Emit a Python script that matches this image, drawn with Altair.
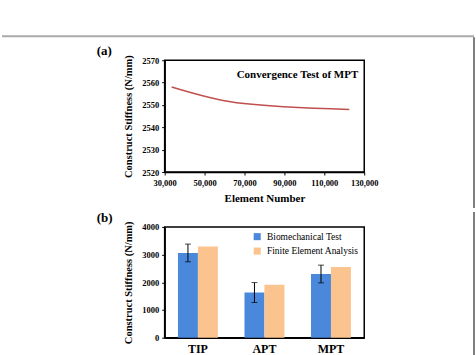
import altair as alt
import pandas as pd

# ---- Panel (a): convergence test ----
elements = [33500, 66000, 122500]
stiffness_conv = [2558, 2551, 2548]

# ---- Panel (b): stiffness comparison ----
constructs = ["TIP", "APT", "MPT"]
series_names = ["Biomechanical Test", "Finite Element Analysis"]
biomech = [3060, 1630, 2300]
biomech_err = [320, 360, 320]
fea = [3290, 1910, 2550]

FONT = "Liberation Serif"

conv_df = pd.DataFrame({"Element": elements, "Stiffness": stiffness_conv})
one = pd.DataFrame({"k": [0]})

rows = []
for c, b, e, f in zip(constructs, biomech, biomech_err, fea):
    rows.append({"Construct": c, "Series": series_names[0], "Value": b, "Lo": b - e, "Hi": b + e})
    rows.append({"Construct": c, "Series": series_names[1], "Value": f, "Lo": None, "Hi": None})
bar_df = pd.DataFrame(rows)

W, H1, H2 = 200, 112, 111

axis_common = dict(
    labelFont=FONT, labelFontWeight="bold", labelColor="black",
    titleFont=FONT, titleFontWeight="bold", titleColor="black",
    domainColor="black", domainWidth=1.5, tickColor="black", grid=False,
    labelOverlap=False,
)


def text_mark(s, x, y, size, weight="bold", align="left"):
    return alt.Chart(one).mark_text(
        text=s, font=FONT, fontWeight=weight, fontSize=size,
        align=align, baseline="alphabetic", color="black"
    ).encode(x=alt.value(x), y=alt.value(y))


line = alt.Chart(conv_df).mark_line(color="#c0504d", strokeWidth=1.5, interpolate="monotone").encode(
    x=alt.X("Element:Q", scale=alt.Scale(domain=[30000, 130000], nice=False),
            axis=alt.Axis(title="Element Number", values=[30000, 50000, 70000, 90000, 110000, 130000],
                          format=",.0f", labelFontSize=8.5, titleFontSize=11, tickSize=3,
                          labelFlush=False, labelPadding=4, titlePadding=5, **axis_common)),
    y=alt.Y("Stiffness:Q", scale=alt.Scale(domain=[2520, 2570], nice=False, zero=False),
            axis=alt.Axis(title="Construct Stiffness (N/mm)", values=[2520, 2530, 2540, 2550, 2560, 2570],
                          format="d", labelFontSize=8.5, titleFontSize=10.5, tickSize=3, labelPadding=3,
                          titlePadding=8, **axis_common)),
)

conv_label = text_mark("Convergence Test of MPT", 194, 18, 11, align="right")
label_a = text_mark("(a)", -68, -5, 13)

# page frame decoration
top_rule = alt.Chart(one).mark_rule(color="#aaaaaa", strokeWidth=2).encode(
    x=alt.value(-163), x2=alt.value(310), y=alt.value(-24))
side_rule = alt.Chart(one).mark_rule(color="#555555", strokeWidth=1.5).encode(
    x=alt.value(310), y=alt.value(-23), y2=alt.value(148))

chart_a = alt.layer(top_rule, side_rule, line, conv_label, label_a).properties(width=W, height=H1)

xenc = alt.X("Construct:N", sort=constructs,
             scale=alt.Scale(paddingInner=0.4, paddingOuter=0.2),
             axis=alt.Axis(title=None, labelAngle=0, labelFontSize=12, ticks=False, labelPadding=6,
                           **axis_common))
xoff = alt.XOffset("Series:N", sort=series_names, scale=alt.Scale(domain=series_names, paddingInner=0))

y_scale_b = alt.Scale(domain=[0, 4000], nice=False)
y_axis_b = alt.Axis(title="Construct Stiffness (N/mm)", values=[0, 1000, 2000, 3000, 4000],
                    format="d", labelFontSize=8.5, titleFontSize=10.5, tickSize=3, labelPadding=3,
                    titlePadding=8, **axis_common)

bars = alt.Chart(bar_df).mark_bar(strokeWidth=0).encode(
    x=xenc, xOffset=xoff,
    y=alt.Y("Value:Q", scale=y_scale_b, axis=y_axis_b),
    color=alt.Color("Series:N", sort=series_names,
                    scale=alt.Scale(domain=series_names, range=["#4a88dc", "#fbc48e"]),
                    legend=alt.Legend(title=None, orient="none", legendX=88, legendY=5,
                                      symbolType="square", symbolSize=50, symbolStrokeWidth=0,
                                      labelFont=FONT, labelFontSize=9.5, labelColor="black",
                                      rowPadding=3.5, labelOffset=5)),
)

err_base = alt.Chart(bar_df).transform_filter("datum.Lo != null")
err_rule = err_base.mark_rule(color="black", strokeWidth=1).encode(
    x=xenc, xOffset=xoff, y=alt.Y("Lo:Q", scale=y_scale_b, axis=y_axis_b), y2="Hi:Q")
err_lo = err_base.mark_tick(color="black", size=6, thickness=1, orient="horizontal").encode(
    x=xenc, xOffset=xoff, y=alt.Y("Lo:Q", scale=y_scale_b, axis=y_axis_b))
err_hi = err_base.mark_tick(color="black", size=6, thickness=1, orient="horizontal").encode(
    x=xenc, xOffset=xoff, y=alt.Y("Hi:Q", scale=y_scale_b, axis=y_axis_b))

side_rule_b = alt.Chart(one).mark_rule(color="#555555", strokeWidth=1.5).encode(
    x=alt.value(310), y=alt.value(-15), y2=alt.value(140))
label_b = text_mark("(b)", -68, -5, 13)

chart_b = alt.layer(side_rule_b, bars, err_rule, err_lo, err_hi, label_b).properties(width=W, height=H2)

chart = alt.vconcat(chart_a, chart_b, spacing=0).resolve_scale(color="independent").resolve_legend(
    color="independent"
).properties(
    padding={"left": 0, "top": 34, "right": 0, "bottom": 0},
    background="white",
).configure_view(stroke="black", strokeWidth=1.5)

chart.save("out.html", embed_options={"renderer": "svg", "actions": False})
